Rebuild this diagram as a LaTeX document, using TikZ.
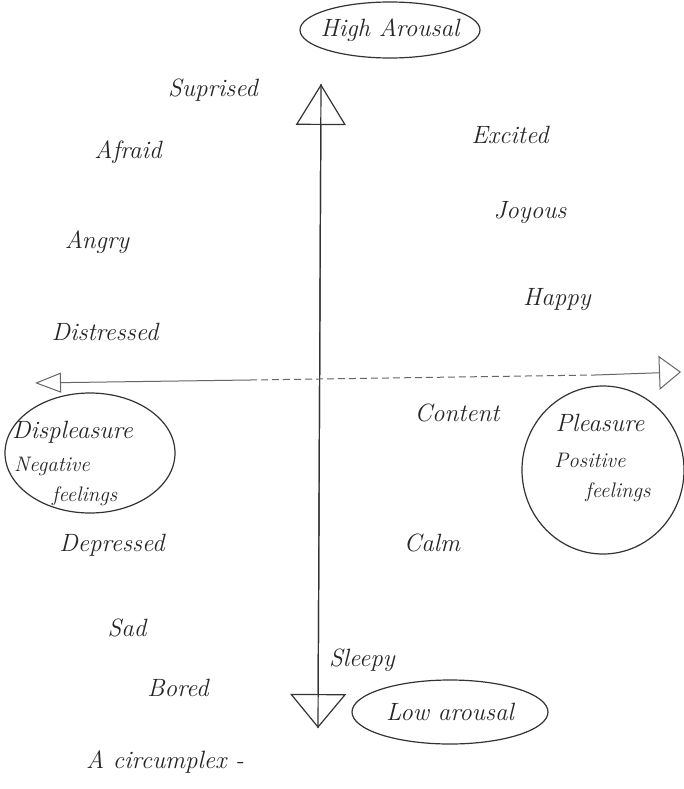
\documentclass[tikz,border=0pt]{standalone}
\usetikzlibrary{arrows.meta,shapes.geometric}
\begin{document}
\begin{tikzpicture}[x=1pt,y=-1pt,
  ink/.style={draw=black!80, line width=1.2pt},
  axisline/.style={draw=black!60, line width=1pt},
  lbl/.style={font=\fontsize{25}{28}\selectfont\itshape, text=black!85, inner sep=0pt},
  small/.style={font=\fontsize{21}{24}\selectfont\itshape, text=black!85, inner sep=0pt},
  bubble/.style={ellipse, draw=black!80, line width=1.2pt, inner sep=0pt},
  ]
\fill[white] (0,0) rectangle (683,789);
\useasboundingbox (0,0) rectangle (683,789);

% vertical axis (arousal)
\coordinate (vT) at (321,84);
\coordinate (vB) at (318,728);
\draw[ink] (vT) -- (vB);
\draw[ink, {Triangle[open,length=41pt,width=50pt]}-{Triangle[open,length=34pt,width=56pt]}] (vT) -- (vB);

% horizontal axis (valence)
\coordinate (hL) at (35,383);
\coordinate (hA) at (250,380);
\coordinate (hB) at (595,375);
\coordinate (hR) at (681,372);
\draw[axisline, {Triangle[open,length=26pt,width=20pt]}-] (hL) -- (hA);
\draw[axisline, dash pattern=on 7pt off 4pt] (hA) -- (hB);
\draw[axisline, -{Triangle[open,length=22pt,width=34pt]}] (hB) -- (hR);

% bubbles
\node[bubble, minimum width=180pt, minimum height=56pt] (high) at (390,30) {};
\node[lbl] (hightxt) at (high.center) {High Arousal};
\node[bubble, minimum width=196pt, minimum height=64pt] (low) at (450,712) {};
\node[lbl] (lowtxt) at (low.center) {Low arousal};
\node[bubble, minimum width=170pt, minimum height=120pt] (neg) at (90,453) {};
\node[bubble, minimum width=162pt, minimum height=168pt] (pos) at (603,470) {};

% text in the displeasure bubble
\node[lbl, anchor=west] (displ) at (12,432) {Displeasure};
\node[small, anchor=west] (negw) at (14,466) {Negative};
\node[small, anchor=west] (negf) at (52,496) {feelings};

% text in the pleasure bubble
\node[lbl] (pleas) at (600,423) {Pleasure};
\node[small] (posw) at (590,460) {Positive};
\node[small] (posf) at (618,492) {feelings};

% emotion words
\node[lbl] (surp) at (213,90) {Suprised};
\node[lbl] (afraid) at (128,152) {Afraid};
\node[lbl] (angry) at (97,242) {Angry};
\node[lbl] (distr) at (105,332) {Distressed};
\node[lbl] (depr) at (112,545) {Depressed};
\node[lbl] (sad) at (127,628) {Sad};
\node[lbl] (bored) at (178,688) {Bored};
\node[lbl] (sleepy) at (362,660) {Sleepy};
\node[lbl] (calm) at (432,543) {Calm};
\node[lbl] (content) at (457,413) {Content};
\node[lbl] (happy) at (557,300) {Happy};
\node[lbl] (joy) at (530,213) {Joyous};
\node[lbl] (excited) at (510,135) {Excited};
\node[lbl] (title) at (165,762) {A circumplex -};
\end{tikzpicture}
\end{document}
